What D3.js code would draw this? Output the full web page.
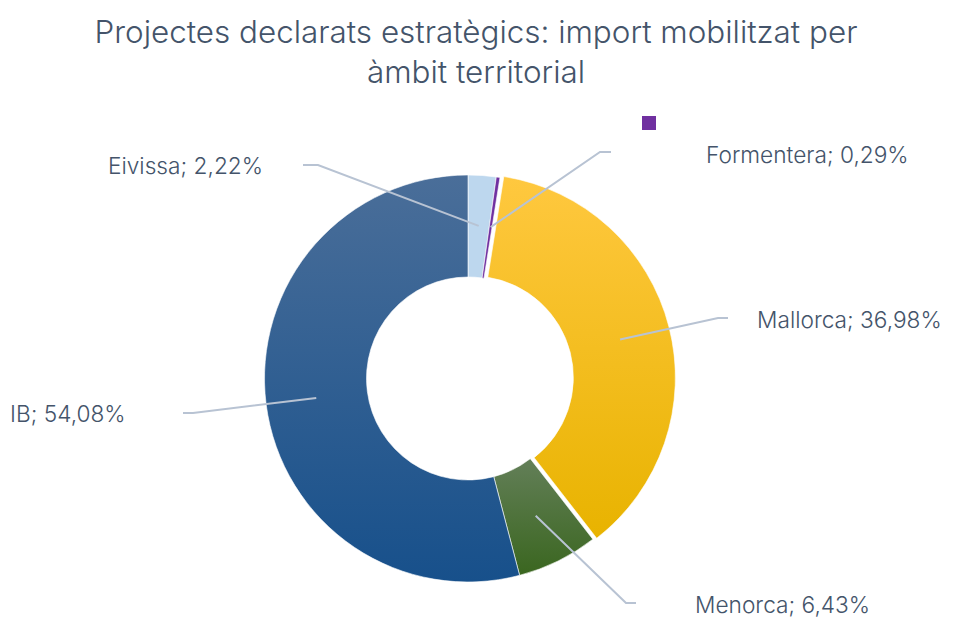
<!DOCTYPE html>
<html><head><meta charset="utf-8">
<script src="https://cdn.jsdelivr.net/npm/d3@7"></script>
<style>body{margin:0;background:#fff}svg{display:block}</style>
</head><body>
<script>
const categories = ["Eivissa", "Formentera", "Mallorca", "Menorca", "IB"];
const values = [2.22, 0.29, 36.98, 6.43, 54.08];
const labels = ["Eivissa; 2,22%", "Formentera; 0,29%", "Mallorca; 36,98%", "Menorca; 6,43%", "IB; 54,08%"];
const titleLines = ["Projectes declarats estratègics: import mobilitzat per", "àmbit territorial"];
const colorsTop = ["#bdd7ee", "#7030a0", "#ffc83f", "#637f58", "#4a6e99"];
const colorsBot = ["#bdd7ee", "#7030a0", "#e8b300", "#3a661f", "#17508b"];
const exploded = [0, 0, 4, 0, 0];

const W = 953, H = 617;
const svg = d3.select("body").append("svg").attr("width", W).attr("height", H);
const defs = svg.append("defs");
categories.forEach((c, i) => {
  const g = defs.append("linearGradient").attr("id", "g" + i).attr("x1", 0).attr("y1", 0).attr("x2", 0).attr("y2", 1);
  g.append("stop").attr("offset", "0%").attr("stop-color", colorsTop[i]);
  g.append("stop").attr("offset", "100%").attr("stop-color", colorsBot[i]);
});

const textColor = "#44546a";
const font = "Inter, 'Noto Sans', sans-serif";

svg.selectAll("text.title").data(titleLines).join("text")
  .attr("class", "title")
  .attr("x", 476).attr("y", (d, i) => 43 + i * 40)
  .attr("text-anchor", "middle")
  .attr("font-family", font).attr("font-weight", 300).attr("font-size", 31.4).attr("fill", textColor)
  .text(d => d);

const cx = 468, cy = 378.5, rOuter = 203.5, rInner = 101.5;
const pie = d3.pie().sort(null).value(d => d)(values);
const arc = d3.arc().innerRadius(rInner).outerRadius(rOuter);
const mid = d3.arc().innerRadius(153).outerRadius(153);
const offset = (p) => {
  const a = (p.startAngle + p.endAngle) / 2, e = exploded[p.index];
  return [e * Math.sin(a), -e * Math.cos(a)];
};

const g = svg.append("g").attr("transform", `translate(${cx},${cy})`);
g.selectAll("path.slice").data(pie).join("path")
  .attr("class", "slice")
  .attr("transform", d => `translate(${offset(d)})`)
  .attr("d", arc)
  .attr("fill", d => "url(#g" + d.index + ")")
  .attr("stroke", "#fff").attr("stroke-width", 0.6);

const labelPos = [
  {x: 318, y: 165, hx: 303, tx: 263, ty: 166, anchor: "end"},
  {x: 600, y: 152, hx: 611, tx: 706, ty: 155, anchor: "start"},
  {x: 718, y: 318, hx: 728, tx: 757, ty: 320, anchor: "start"},
  {x: 626, y: 603, hx: 636, tx: 695, ty: 605, anchor: "start"},
  {x: 193, y: 413, hx: 183, tx: 10, ty: 414, anchor: "start"}
];

const lineG = svg.append("g");
pie.forEach((p, i) => {
  const c = mid.centroid(p), o = offset(p);
  const lp = labelPos[i];
  lineG.append("polyline")
    .attr("points", `${cx + c[0] + o[0]},${cy + c[1] + o[1]} ${lp.x},${lp.y} ${lp.hx},${lp.y}`)
    .attr("fill", "none").attr("stroke", "#b8c3d3").attr("stroke-width", 2);
  svg.append("text")
    .attr("x", lp.tx).attr("y", lp.ty).attr("dy", "0.35em")
    .attr("text-anchor", lp.anchor)
    .attr("font-family", font).attr("font-weight", 300).attr("font-size", 22.7).attr("fill", textColor)
    .text(labels[i]);
});

// stray legend marker
svg.append("rect").attr("x", 642).attr("y", 116).attr("width", 14).attr("height", 14).attr("fill", colorsTop[1]);
</script>
</body></html>
